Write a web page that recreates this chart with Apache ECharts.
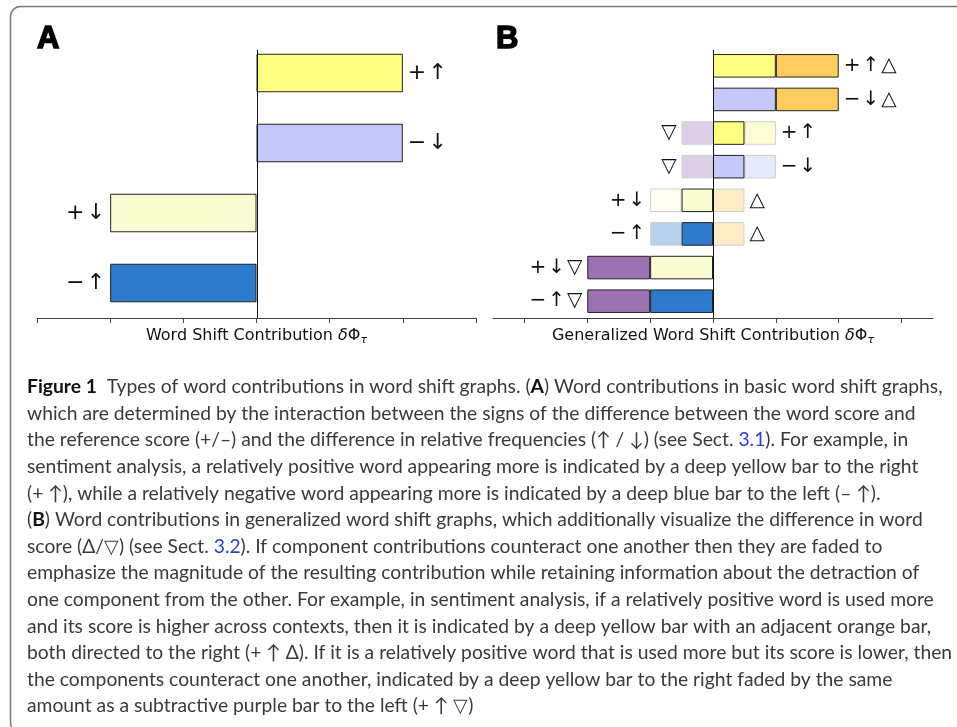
<!DOCTYPE html>
<html>
<head>
<meta charset="utf-8">
<script src="https://cdn.jsdelivr.net/npm/echarts@6/dist/echarts.min.js"></script>
<style>
  html, body { margin: 0; padding: 0; background: #fff; }
  #chart { width: 957px; height: 727px; }
</style>
</head>
<body>
<div id="chart"></div>
<script>
// panel A: basic word shift, one bar per contribution type
const typesA = ['+↑', '−↓', '+↓', '−↑'];
const valuesA = [2, 2, -2, -2];
const labelsA = ['+\u200a↑', '−\u200a↓', '+\u200a↓', '−\u200a↑'];

// panel B: generalized word shift, stacked components per row
const typesB = ['+↑△', '−↓△', '+↑▽', '−↓▽', '+↓△', '−↑△', '+↓▽', '−↑▽'];
const freqDeep = [1, 1, 0.5, 0.5, -0.5, -0.5, -1, -1];
const freqFaded = ['-', '-', 0.5, 0.5, -0.5, -0.5, '-', '-'];
const scoreB = [1, 1, -0.5, -0.5, 0.5, 0.5, -1, -1];
const labelsRightB = ['+\u200a↑\u200a△', '−\u200a↓\u200a△', '+\u200a↑', '−\u200a↓', '△', '△', '', ''];
const labelsLeftB = ['', '', '▽', '▽', '+\u200a↓', '−\u200a↑', '+\u200a↓\u200a▽', '−\u200a↑\u200a▽'];

const ticks = [-3, -2, -1, 0, 1, 2, 3];

// colours
const colorsA = ['#ffff80', '#c4c8fa', '#fafdd2', '#2e7acd'];
const freqDeepColors = ['#ffff80', '#c4c8fa', '#ffff80', '#c4c8fa', '#fafdd2', '#2e7acd', '#fafdd2', '#2e7acd'];
const freqFadedColors = [null, null, '#fefed6', '#e7e9fc', '#fefef2', '#b7d0ed', null, null];
const scoreColors = ['#fecd5e', '#fecd5e', '#ddcfe5', '#ddcfe5', '#feebc7', '#feebc7', '#9d72b3', '#9d72b3'];
const scoreIsFaded = [false, false, true, true, true, true, false, false];

const captionLines = [
  '{b|Figure 1}  Types of word contributions in word shift graphs. ({b|A}) Word contributions in basic word shift graphs,',
  'which are determined by the interaction between the signs of the difference between the word score and',
  'the reference score (+/–) and the difference in relative frequencies (↑ / ↓) (see Sect. {l|3.1}). For example, in',
  'sentiment analysis, a relatively positive word appearing more is indicated by a deep yellow bar to the right',
  '(+ ↑), while a relatively negative word appearing more is indicated by a deep blue bar to the left (– ↑).',
  '({b|B}) Word contributions in generalized word shift graphs, which additionally visualize the difference in word',
  'score (Δ/▽) (see Sect. {l|3.2}). If component contributions counteract one another then they are faded to',
  'emphasize the magnitude of the resulting contribution while retaining information about the detraction of',
  'one component from the other. For example, in sentiment analysis, if a relatively positive word is used more',
  'and its score is higher across contexts, then it is indicated by a deep yellow bar with an adjacent orange bar,',
  'both directed to the right (+ ↑ Δ). If it is a relatively positive word that is used more but its score is lower, then',
  'the components counteract one another, indicated by a deep yellow bar to the right faded by the same',
  'amount as a subtractive purple bar to the left (+ ↑ ▽)'
];

const FONT = 'DejaVu Sans';
const DARK = '#222';
const FADED_BORDER = '#cfcfcf';
const CAP_SIZE = 19.3;

const stackB = [freqDeep, freqFaded, scoreB];

// index of the outermost stacked component on one side of zero
function outer(row, sign) {
  let k = -1;
  stackB.forEach((vals, i) => {
    const v = vals[row];
    if (typeof v === 'number' && v * sign > 0) k = i;
  });
  return k;
}

function itemB(si, row, color, faded) {
  const v = stackB[si][row];
  if (typeof v !== 'number') return '-';
  const item = { value: v, itemStyle: { color: color, borderColor: faded ? FADED_BORDER : DARK } };
  const sign = v > 0 ? 1 : -1;
  const txt = sign > 0 ? labelsRightB[row] : labelsLeftB[row];
  if (txt && outer(row, sign) === si) {
    item.label = { show: true, position: sign > 0 ? 'right' : 'left', formatter: txt };
  }
  return item;
}

function axisName(text, fs) {
  return {
    name: '{t|' + text + ' }{m|δ}{t|Φ}{s|τ}',
    nameLocation: 'middle',
    nameGap: 8,
    nameTextStyle: {
      rich: {
        t: { fontSize: fs, fontFamily: FONT, color: '#111' },
        m: { fontSize: fs, fontFamily: FONT, fontStyle: 'italic', color: '#111' },
        s: { fontSize: 11, fontFamily: FONT, fontStyle: 'italic', color: '#111', padding: [9, 0, 0, 0] }
      }
    }
  };
}

function xAxisFor(gi, min, max, text) {
  return Object.assign({
    gridIndex: gi,
    type: 'value',
    min: min,
    max: max,
    axisLine: { show: true, onZero: false, lineStyle: { color: '#444', width: 1 } },
    axisTick: { show: true, customValues: ticks, length: 5, lineStyle: { color: '#444', width: 1 } },
    axisLabel: { show: false },
    splitLine: { show: false }
  }, axisName(text, 16));
}

const option = {
  animation: false,
  backgroundColor: '#fff',
  grid: [
    { left: 37, top: 38, width: 439, height: 280 },
    { left: 493, top: 49, width: 440, height: 269 }
  ],
  xAxis: [
    xAxisFor(0, -3, 3, 'Word Shift Contribution'),
    xAxisFor(1, -3.5, 3.5, 'Generalized Word Shift Contribution')
  ],
  yAxis: [
    { gridIndex: 0, type: 'category', inverse: true, data: typesA, axisLine: { show: false }, axisTick: { show: false }, axisLabel: { show: false } },
    { gridIndex: 1, type: 'category', inverse: true, data: typesB, axisLine: { show: false }, axisTick: { show: false }, axisLabel: { show: false } }
  ],
  series: [
    {
      type: 'bar',
      xAxisIndex: 0,
      yAxisIndex: 0,
      barWidth: '55%',
      itemStyle: { borderColor: DARK, borderWidth: 1 },
      label: { fontSize: 22, fontFamily: FONT, color: '#111', distance: 5 },
      data: valuesA.map((v, i) => ({
        value: v,
        itemStyle: { color: colorsA[i] },
        label: { show: true, position: v > 0 ? 'right' : 'left', formatter: labelsA[i] }
      }))
    },
    {
      type: 'bar',
      xAxisIndex: 1,
      yAxisIndex: 1,
      stack: 'b',
      barWidth: '70%',
      z: 3,
      itemStyle: { borderWidth: 1 },
      label: { fontSize: 20, fontFamily: FONT, color: '#111', distance: 5 },
      data: freqDeep.map((v, i) => itemB(0, i, freqDeepColors[i], false))
    },
    {
      type: 'bar',
      xAxisIndex: 1,
      yAxisIndex: 1,
      stack: 'b',
      barWidth: '70%',
      z: 2,
      itemStyle: { borderWidth: 1 },
      label: { fontSize: 20, fontFamily: FONT, color: '#111', distance: 5 },
      data: freqFaded.map((v, i) => itemB(1, i, freqFadedColors[i], true))
    },
    {
      type: 'bar',
      xAxisIndex: 1,
      yAxisIndex: 1,
      stack: 'b',
      barWidth: '70%',
      z: 2,
      itemStyle: { borderWidth: 1 },
      label: { fontSize: 20, fontFamily: FONT, color: '#111', distance: 5 },
      data: scoreB.map((v, i) => itemB(2, i, scoreColors[i], scoreIsFaded[i]))
    }
  ]
};

const chart = echarts.init(document.getElementById('chart'));
chart.setOption(option);

// zero lines drawn from the axes' own scale
const axisBottom = 318;
const zeroLines = [0, 1].map(i => {
  const x0 = Math.round(chart.convertToPixel({ xAxisIndex: i }, 0)) + 0.5;
  return {
    type: 'line', z: 100, silent: true,
    shape: { x1: x0, y1: 50, x2: x0, y2: axisBottom },
    style: { stroke: '#111', lineWidth: 1 }
  };
});

const captionEls = captionLines.map((line, i) => ({
  type: 'text', silent: true, z: 100,
  x: 27, y: 387 + i * 26.6,
  style: {
    text: line,
    fontFamily: 'Lato', fontSize: CAP_SIZE, fill: '#3a3a3a',
    verticalAlign: 'middle',
    rich: {
      b: { fontFamily: 'Lato', fontSize: CAP_SIZE, fontWeight: 'bold', fill: '#111' },
      l: { fontFamily: 'Lato', fontSize: CAP_SIZE, fill: '#2b3fd8' }
    }
  }
}));

chart.setOption({
  graphic: [
    {
      type: 'rect', silent: true, z: 0,
      shape: { x: 10.5, y: 6.5, width: 990, height: 726, r: 10 },
      style: { fill: 'none', stroke: '#7a7a7a', lineWidth: 1.5 }
    },
    {
      type: 'text', silent: true, z: 100, x: 37, y: 39,
      style: { text: 'A', fontFamily: 'Liberation Sans', fontWeight: 'bold', fontSize: 31, fill: '#000', stroke: '#000', lineWidth: 1.5, verticalAlign: 'middle' }
    },
    {
      type: 'text', silent: true, z: 100, x: 496, y: 39,
      style: { text: 'B', fontFamily: 'Liberation Sans', fontWeight: 'bold', fontSize: 31, fill: '#000', stroke: '#000', lineWidth: 1.5, verticalAlign: 'middle' }
    }
  ].concat(zeroLines, captionEls)
});
</script>
</body>
</html>
